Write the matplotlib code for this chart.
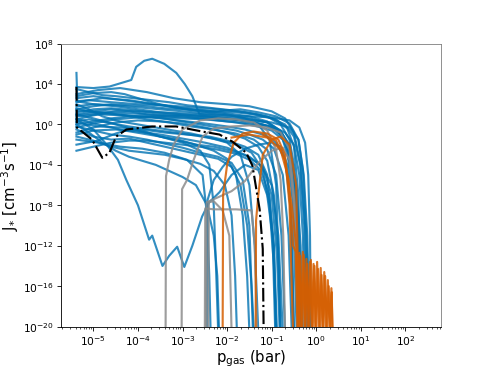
import numpy as np
import matplotlib.pyplot as plt

# values, stored as log10(p_gas [bar]) and log10(J_*)
blue_p = [
    [-5.38, -5.36, -5.1, -4.6, -4.0, -3.4, -2.8, -2.2, -1.6, -1.1, -0.8, -0.6, -0.5, -0.42, -0.36],
    [-5.38, -5.0, -4.64, -4.3, -4.15, -4.04, -3.86, -3.68, -3.41, -3.14, -2.95, -2.78, -2.62, -2.2, -1.6, -1.1, -0.75, -0.55, -0.42, -0.35],
    [-5.38, -4.9, -4.4, -3.8, -3.2, -2.6, -2.0, -1.5, -1.0, -0.7, -0.5, -0.35, -0.25, -0.18],
    [-5.38, -4.8, -4.2, -3.6, -3.0, -2.4, -2.0, -1.7, -1.3, -0.9, -0.6, -0.4, -0.28, -0.2, -0.15],
    [-5.38, -5.0, -4.5, -4.0, -3.5, -3.0, -2.5, -2.0, -1.5, -1.1, -0.8, -0.6, -0.45, -0.35, -0.3],
    [-5.38, -5.0, -4.6, -4.1, -3.6, -3.0, -2.4, -1.9, -1.4, -1.0, -0.75, -0.55, -0.42, -0.33],
    [-5.38, -4.9, -4.3, -3.7, -3.1, -2.5, -2.0, -1.6, -1.2, -0.9, -0.7, -0.58, -0.5],
    [-5.38, -5.1, -4.7, -4.2, -3.7, -3.2, -2.7, -2.2, -1.8, -1.45, -1.2, -1.05, -0.95, -0.9],
    [-5.38, -5.0, -4.7, -4.45, -4.26, -4.0, -3.75, -3.68, -3.45, -3.3, -3.12, -2.96, -2.78, -2.56, -2.4, -2.17, -1.9, -1.6, -1.3, -1.1, -0.95, -0.88],
    [-5.38, -5.1, -4.8, -4.5, -4.2, -3.9, -3.6, -3.3, -3.0, -2.7, -2.45, -2.3, -2.22, -2.18],
    [-5.38, -5.0, -4.6, -4.2, -3.8, -3.4, -3.0, -2.6, -2.2, -1.9, -1.7, -1.55, -1.45, -1.4],
    [-5.38, -5.0, -4.5, -4.0, -3.5, -3.0, -2.6, -2.4, -2.3, -2.25, -2.2],
    [-5.38, -4.9, -4.4, -3.9, -3.4, -2.9, -2.55, -2.45, -2.4, -2.37],
    [-5.38, -5.0, -4.5, -4.0, -3.5, -3.0, -2.5, -2.0, -1.6, -1.3, -1.1, -0.95, -0.85, -0.8],
    [-5.38, -5.0, -4.5, -4.0, -3.5, -3.0, -2.5, -2.0, -1.5, -1.1, -0.85, -0.65, -0.52, -0.44],
    [-5.38, -5.0, -4.6, -4.2, -3.8, -3.4, -3.0, -2.6, -2.2, -1.8, -1.4, -1.0, -0.7, -0.5, -0.36, -0.27, -0.22],
    [-5.38, -5.0, -4.6, -4.2, -3.8, -3.4, -3.0, -2.5, -2.0, -1.5, -1.0, -0.6, -0.4, -0.3, -0.22, -0.16],
    [-5.38, -4.8, -4.3, -3.8, -3.3, -2.8, -2.3, -1.8, -1.4, -1.1, -0.9, -0.78, -0.7],
    [-5.38, -5.1, -4.8, -4.4, -4.0, -3.6, -3.2, -2.8, -2.4, -2.0, -1.7, -1.5, -1.38, -1.3],
    [-5.38, -5.0, -4.5, -4.0, -3.5, -3.0, -2.5, -2.0, -1.6, -1.25, -1.0, -0.85, -0.75],
    [-5.38, -5.0, -4.6, -4.3, -4.0, -3.6, -3.2, -2.8, -2.4, -2.0, -1.6, -1.3, -1.05, -0.9, -0.8],
    [-5.38, -5.0, -4.6, -4.2, -3.8, -3.4, -3.0, -2.6, -2.2, -1.8, -1.5, -1.2, -0.95, -0.75, -0.62, -0.55],
    [-5.38, -4.9, -4.5, -4.2, -3.9, -3.5, -3.1, -2.7, -2.3, -1.9, -1.5, -1.2, -1.0, -0.88, -0.82],
    [-5.38, -5.0, -4.5, -4.0, -3.5, -3.0, -2.5, -2.0, -1.5, -1.0, -0.6, -0.38, -0.25, -0.18, -0.14, -0.12],
    [-5.38, -5.0, -4.5, -4.0, -3.5, -3.0, -2.5, -2.0, -1.5, -1.0, -0.7, -0.5, -0.38, -0.3, -0.25],
    [-5.38, -5.1, -4.7, -4.3, -3.9, -3.5, -3.1, -2.7, -2.3, -2.0, -1.8, -1.65, -1.55, -1.5],
    [-5.38, -5.0, -4.6, -4.2, -3.8, -3.4, -3.0, -2.6, -2.3, -2.05, -1.9, -1.82, -1.78],
    [-5.38, -5.1, -4.8, -4.5, -4.1, -3.7, -3.3, -2.9, -2.5, -2.1, -1.7, -1.3, -0.9, -0.65, -0.5, -0.4, -0.33],
    [-5.38, -5.0, -4.6, -4.2, -3.8, -3.4, -3.0, -2.6, -2.2, -1.8, -1.4, -1.0, -0.75, -0.58, -0.47, -0.4],
    [-5.38, -4.9, -4.4, -3.9, -3.4, -2.9, -2.4, -2.0, -1.6, -1.3, -1.1, -0.98, -0.92],
    [-5.38, -5.0, -4.6, -4.2, -3.8, -3.4, -3.0, -2.6, -2.2, -1.9, -1.65, -1.5, -1.42],
    [-5.38, -5.0, -4.5, -4.0, -3.5, -3.0, -2.5, -2.0, -1.5, -1.1, -0.8, -0.6, -0.48, -0.4],
    [-5.38, -5.0, -4.5, -4.0, -3.6, -3.2, -2.8, -2.4, -2.0, -1.6, -1.2, -0.9, -0.65, -0.5, -0.42],
    [-5.38, -5.0, -4.6, -4.2, -3.8, -3.4, -3.0, -2.6, -2.2, -1.8, -1.5, -1.25, -1.05, -0.95, -0.9],
    [-2.45, -2.44, -2.3, -2.1, -1.9, -1.6, -1.3, -1.0, -0.8, -0.65, -0.55, -0.5],
]
blue_j = [
    [5.1, 2.3, 2.4, 2.2, 2.0, 1.9, 1.7, 1.5, 1.2, 0.8, 0.0, -1.5, -4, -9, -20.5],
    [3.7, 3.6, 3.75, 4.2, 4.4, 5.7, 6.3, 6.5, 6.0, 5.1, 4.0, 2.8, 1.0, 0.8, 0.6, 0.2, -1.0, -3.5, -10, -20.5],
    [3.0, 3.4, 3.6, 3.2, 2.6, 2.2, 2.0, 1.8, 1.3, 0.6, -0.8, -4, -10, -20.5],
    [2.2, 2.6, 2.4, 2.0, 1.6, 1.2, 1.4, 1.5, 1.2, 0.8, 0.1, -1.5, -5, -11, -20.5],
    [1.8, 2.0, 1.9, 1.7, 1.5, 1.3, 1.1, 0.9, 0.6, 0.2, -0.6, -2.2, -6, -12, -20.5],
    [1.2, 1.5, 1.6, 1.4, 1.1, 0.9, 0.7, 0.5, 0.2, -0.3, -1.2, -3.5, -9, -20.5],
    [0.8, 1.0, 0.9, 0.7, 0.4, 0.1, -0.2, -0.5, -1.0, -1.8, -3.5, -8, -20.5],
    [0.3, 0.5, 0.2, -0.2, -0.5, -0.8, -1.1, -1.5, -2.0, -2.8, -4.5, -8, -14, -20.5],
    [0.5, -0.5, -2.0, -3.5, -5.5, -8.0, -11.4, -11.0, -14.0, -13.0, -12.1, -14.1, -12.0, -9.1, -7.7, -6.7, -5.0, -4.0, -4.5, -7, -12, -20.5],
    [0.0, -0.8, -1.8, -2.6, -3.2, -3.6, -4.0, -4.6, -5.2, -6.0, -8.0, -11, -15, -20.5],
    [-0.5, -1.2, -1.5, -1.4, -1.8, -2.2, -2.6, -3.0, -3.4, -4.2, -6, -10, -16, -20.5],
    [1.0, 0.6, 0.0, -0.6, -1.2, -1.8, -2.6, -4, -8, -14, -20.5],
    [-1.5, -1.8, -2.2, -2.4, -2.8, -3.5, -5, -9, -15, -20.5],
    [-0.8, -0.3, 0.2, 0.4, 0.3, 0.1, -0.3, -0.8, -1.4, -2.2, -3.6, -7, -13, -20.5],
    [2.6, 2.8, 2.5, 2.2, 1.9, 1.6, 1.4, 1.1, 0.8, 0.3, -0.5, -2.5, -8, -20.5],
    [1.5, 1.8, 2.0, 1.9, 1.8, 1.6, 1.5, 1.4, 1.3, 1.2, 1.0, 0.6, 0.0, -1.2, -4, -10, -20.5],
    [0.5, 0.9, 1.2, 1.1, 1.0, 0.8, 0.7, 0.6, 0.5, 0.4, 0.2, -0.3, -1.5, -4.5, -11, -20.5],
    [1.4, 1.2, 0.9, 0.5, 0.2, -0.2, -0.5, -0.9, -1.5, -2.5, -5, -11, -20.5],
    [2.0, 1.5, 0.8, 0.3, 0.0, -0.3, -0.6, -0.9, -1.3, -1.8, -3.0, -6, -12, -20.5],
    [-1.0, -0.6, -0.5, -0.7, -1.0, -1.4, -1.8, -2.3, -3.0, -4.0, -6, -11, -20.5],
    [2.8, 3.1, 3.2, 3.0, 2.6, 2.1, 1.7, 1.4, 1.2, 1.0, 0.6, 0.0, -1.5, -6, -20.5],
    [0.0, 0.3, 0.6, 0.8, 0.8, 0.6, 0.3, 0.0, -0.3, -0.6, -1.0, -1.5, -2.4, -5, -11, -20.5],
    [-2.0, -1.6, -0.9, -0.5, -0.6, -1.2, -1.6, -2.0, -2.2, -2.6, -3.2, -4.2, -7, -13, -20.5],
    [0.9, 1.1, 1.3, 1.3, 1.2, 1.1, 1.0, 0.9, 0.8, 0.7, 0.4, -0.3, -1.8, -5, -11, -20.5],
    [-0.3, 0.1, 0.5, 0.7, 0.7, 0.6, 0.5, 0.3, 0.1, -0.2, -0.8, -2, -5, -11, -20.5],
    [0.6, 0.2, -0.2, -0.6, -0.9, -1.2, -1.5, -2.0, -2.6, -3.4, -5.0, -9, -15, -20.5],
    [-1.2, -1.6, -2.2, -2.6, -2.8, -3.0, -3.4, -3.9, -4.6, -6.0, -9, -15, -20.5],
    [3.5, 3.2, 2.9, 2.8, 2.6, 2.4, 2.2, 1.9, 1.7, 1.5, 1.3, 1.0, 0.5, -0.4, -2.2, -7, -20.5],
    [1.0, 1.3, 1.5, 1.3, 1.0, 0.9, 0.8, 0.6, 0.4, 0.2, -0.1, -0.6, -1.5, -4, -10, -20.5],
    [0.2, -0.2, -0.3, -0.5, -0.8, -1.0, -1.2, -1.6, -2.2, -3.0, -5, -11, -20.5],
    [-0.2, -0.6, -1.0, -1.2, -1.5, -1.9, -2.3, -2.8, -3.2, -3.8, -5.5, -10, -20.5],
    [2.3, 2.0, 1.8, 1.5, 1.2, 1.0, 0.8, 0.6, 0.3, -0.1, -0.7, -2, -6, -20.5],
    [1.6, 1.2, 1.0, 0.8, 0.8, 0.9, 0.9, 0.8, 0.6, 0.4, 0.0, -0.6, -1.8, -6, -20.5],
    [-2.6, -2.2, -1.8, -1.6, -1.6, -1.8, -2.0, -2.2, -2.5, -2.9, -3.5, -4.5, -7, -12, -20.5],
    [-20.5, -7.5, -5.5, -4.2, -3.2, -2.4, -2.0, -1.8, -2.2, -4, -10, -20.5],
]

gray_p = [
    [-3.38, -3.37, -3.3, -3.2, -3.0, -2.6, -2.2, -1.8, -1.4, -1.1, -0.9, -0.8, -0.74, -0.7],
    [-3.02, -3.01, -2.9, -2.75, -2.55, -2.3, -1.9, -1.5, -1.1, -0.8, -0.6, -0.48, -0.42, -0.38],
    [-2.5, -2.49, -2.3, -1.8, -1.45, -1.38, -1.33],
    [-2.42, -2.41, -2.3, -2.1, -1.95, -1.9],
    [-2.47, -2.46, -2.2, -1.9, -1.6, -1.3, -1.0, -0.75, -0.6, -0.5, -0.42],
]
gray_j = [
    [-20.5, -5.1, -3.5, -2.0, -0.5, 0.4, 0.6, 0.5, 0.2, -0.6, -2.5, -5.5, -11, -20.5],
    [-20.5, -6.4, -5.5, -3.5, -1.2, -0.4, -0.2, -0.1, -0.3, -0.8, -2.5, -8, -14, -20.5],
    [-20.5, -8.3, -8.4, -8.4, -8.5, -12, -20.5],
    [-20.5, -7.7, -7.6, -8.5, -11, -20.5],
    [-20.5, -7.7, -7.2, -6.6, -5.6, -3.8, -2.6, -2.3, -3.5, -8, -20.5],
]

orange_p = [
    [-2.1, -2.09, -2.0, -1.85, -1.65, -1.4, -1.1, -0.85, -0.7, -0.6, -0.52],
    [-1.36, -1.35, -1.3, -1.2, -1.0, -0.8, -0.6, -0.45, -0.38],
    [-1.9, -1.5, -1.1, -0.8, -0.62, -0.52, -0.46, -0.42, -0.38, -0.34, -0.30, -0.26, -0.22, -0.18,
     -0.14, -0.10, -0.06, -0.02, 0.02, 0.06, 0.10, 0.14, 0.18, 0.22, 0.26, 0.30, 0.34, 0.37],
    [-1.2, -0.9, -0.7, -0.55, -0.44, -0.40, -0.36, -0.32, -0.28, -0.24, -0.20, -0.16, -0.12, -0.08,
     -0.04, 0.0, 0.04, 0.08, 0.12, 0.16, 0.20, 0.24, 0.28, 0.32, 0.35, 0.36],
]
orange_j = [
    [-20.5, -7, -4, -1.8, -0.9, -0.7, -0.9, -1.5, -3, -8, -20.5],
    [-20.5, -9.5, -7, -3, -1.5, -1.2, -2, -6, -20.5],
    [-1.3, -1.0, -1.3, -2.5, -5.4, -12.0, -12.6, -20.5, -12.7, -20.5, -12.6, -20.5, -13.3, -20.5,
     -13.6, -20.5, -13.8, -20.5, -13.6, -20.5, -14.2, -20.5, -14.6, -20.5, -15.4, -20.5, -16.2, -20.5],
    [-1.0, -1.6, -3.5, -8.0, -12.4, -20.5, -13.0, -20.5, -12.9, -20.5, -13.8, -20.5, -13.4, -20.5,
     -14.0, -20.5, -14.3, -20.5, -14.9, -20.5, -15.0, -20.5, -16.0, -20.5, -16.6, -20.5],
]

black_p = [-5.38, -5.37, -5.03, -4.80, -4.64, -4.49, -4.26, -3.68, -3.14, -2.56, -2.17, -1.88,
           -1.57, -1.43, -1.27, -1.20, -1.18]
black_j = [3.7, -0.3, -1.5, -3.3, -2.8, -1.2, -0.5, -0.2, -0.2, -0.7, -1.0, -1.7,
           -2.8, -4.1, -8.4, -12.3, -20.5]

fig = plt.figure(figsize=(6.4, 4.8), dpi=76.5625)
ax = fig.add_subplot(111)

for p, j in zip(blue_p, blue_j):
    ax.plot(10**np.array(p), 10**np.array(j), color='#0072B2', alpha=0.8, lw=2)
for p, j in zip(gray_p, gray_j):
    ax.plot(10**np.array(p), 10**np.array(j), color='#8c8c8c', alpha=0.85, lw=2)
for p, j in zip(orange_p, orange_j):
    ax.plot(10**np.array(p), 10**np.array(j), color='#D55E00', alpha=0.85, lw=2)
ax.plot(10**np.array(black_p), 10**np.array(black_j), color='black', ls='-.', lw=2)

ax.set_xscale('log')
ax.set_yscale('log')
ax.set_xlim(1.9e-6, 630)
ax.set_ylim(1e-20, 1e8)
ax.set_xlabel(r'p$_{\rm gas}$ (bar)', fontsize=14, labelpad=0)
ax.set_ylabel(r'J$_{*}$ [cm$^{-3}$s$^{-1}$]', fontsize=14, labelpad=2)
ax.spines['top'].set_color('gray')
ax.spines['right'].set_color('gray')

fig.savefig('out.png', dpi=76.5625)
